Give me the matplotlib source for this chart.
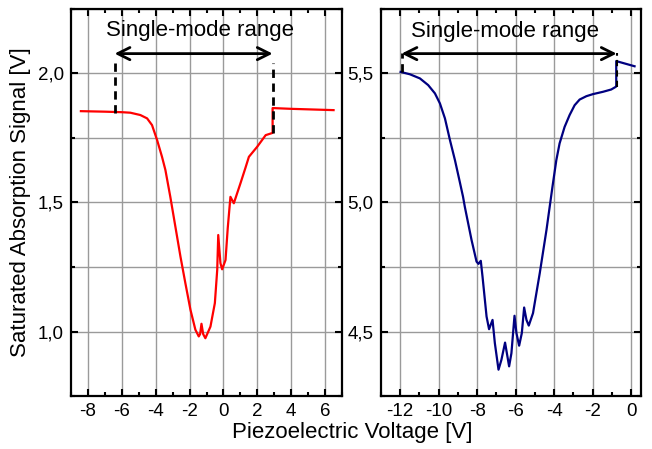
import numpy as np
import matplotlib
matplotlib.use("Agg")
import matplotlib.pyplot as plt
from matplotlib.ticker import MultipleLocator, FuncFormatter

plt.rcParams['font.family'] = ['Liberation Sans', 'DejaVu Sans']

# left panel: red trace
left_x = [-8.42, -7.0, -6.0, -5.5, -4.91, -4.51, -4.22, -3.92, -3.63, -3.43, -3.14, -2.84,
          -2.54, -2.25, -1.95, -1.66, -1.46, -1.38, -1.30, -1.2, -1.07, -0.77, -0.51,
          -0.37, -0.31, -0.18, -0.08, 0.12, 0.25, 0.41, 0.61, 1.0, 1.3, 1.5, 1.99,
          2.49, 2.82, 2.9, 2.9, 4.0, 5.5, 6.5]
left_y = [1.854, 1.852, 1.850, 1.848, 1.839, 1.826, 1.800, 1.742, 1.677, 1.626, 1.522, 1.406,
          1.290, 1.187, 1.084, 1.007, 0.981, 0.99, 1.030, 0.99, 0.974, 1.019, 1.110,
          1.239, 1.374, 1.265, 1.241, 1.277, 1.40, 1.522, 1.497, 1.574, 1.635, 1.677, 1.716,
          1.761, 1.768, 1.770, 1.866, 1.863, 1.860, 1.858]

# right panel: blue trace
right_x = [-11.97, -11.49, -10.97, -10.54, -10.19, -9.93, -9.67, -9.41, -9.15, -8.90,
           -8.73, -8.64, -8.29, -8.03, -7.93, -7.81, -7.72, -7.51, -7.38, -7.2, -7.08,
           -6.89, -6.74, -6.55, -6.34, -6.22, -6.06, -5.96, -5.82, -5.68, -5.56, -5.44,
           -5.32, -5.1, -4.75, -4.4, -4.09, -3.89, -3.72, -3.46, -3.2, -2.94, -2.68,
           -2.33, -1.99, -1.47, -1.04, -0.81, -0.78, -0.78, 0.17]
right_y = [5.506, 5.497, 5.481, 5.455, 5.423, 5.384, 5.326, 5.242, 5.164, 5.080,
           5.022, 4.984, 4.855, 4.771, 4.762, 4.774, 4.713, 4.558, 4.509, 4.545, 4.455,
           4.352, 4.39, 4.457, 4.365, 4.416, 4.561, 4.494, 4.445, 4.494, 4.593, 4.545,
           4.523, 4.571, 4.726, 4.894, 5.061, 5.164, 5.229, 5.293, 5.339, 5.377, 5.399,
           5.412, 5.42, 5.429, 5.438, 5.448, 5.450, 5.548, 5.528]

# single-mode range markers (start, end)
left_range = [-6.43, 2.9]
right_range = [-11.92, -0.76]

label_text = "Single-mode range"


def comma_fmt(v, pos):
    return ("%.1f" % v).replace(".", ",")


def style_axis(ax):
    ax.grid(True, which='major', axis='x', color='#9a9a9a', lw=1.0)
    ax.grid(True, which='both', axis='y', color='#9a9a9a', lw=1.0)
    ax.set_axisbelow(True)
    ax.tick_params(which='both', direction='in', top=True, right=True, labelsize=13.5,
                   width=1.5, pad=5)
    ax.tick_params(which='major', length=5)
    ax.tick_params(which='minor', length=3)
    ax.yaxis.set_major_locator(MultipleLocator(0.5))
    ax.yaxis.set_minor_locator(MultipleLocator(0.25))
    ax.xaxis.set_major_locator(MultipleLocator(2))
    ax.xaxis.set_minor_locator(MultipleLocator(1))
    ax.yaxis.set_major_formatter(FuncFormatter(comma_fmt))
    ax.xaxis.set_major_formatter(FuncFormatter(lambda v, p: "%d" % v))
    for s in ax.spines.values():
        s.set_linewidth(1.6)


fig = plt.figure(figsize=(6.52, 4.49), dpi=100)
ax1 = fig.add_axes([0.109, 0.118, 0.4156, 0.862])
ax2 = fig.add_axes([0.584, 0.118, 0.399, 0.862])

# left
ax1.plot(left_x, left_y, color='red', lw=1.6)
ax1.set_xlim(-9, 7)
ax1.set_ylim(0.75, 2.25)
style_axis(ax1)
ax1.plot([left_range[0]] * 2, [1.845, 2.04], color='black', lw=2, ls=(0, (3, 2)))
ax1.plot([left_range[1]] * 2, [1.77, 2.04], color='black', lw=2, ls=(0, (3, 2)))
ax1.annotate('', xy=(left_range[0], 2.077), xytext=(left_range[1], 2.077),
             arrowprops=dict(arrowstyle='<->', lw=2, color='black', mutation_scale=22,
                             shrinkA=0, shrinkB=0))
ax1.text(-1.36, 2.168, label_text, ha='center', va='center', fontsize=16)
ax1.set_ylabel("Saturated Absorption Signal [V]", fontsize=16, labelpad=5)

# right
ax2.plot(right_x, right_y, color='#000080', lw=1.6)
ax2.set_xlim(-13, 0.5)
ax2.set_ylim(4.25, 5.75)
style_axis(ax2)
ax2.plot([right_range[0]] * 2, [5.506, 5.578], color='black', lw=2, ls=(0, (3, 2)))
ax2.plot([right_range[1]] * 2, [5.447, 5.578], color='black', lw=1.5, ls=(0, (3, 2)))
ax2.annotate('', xy=(right_range[0], 5.577), xytext=(right_range[1], 5.577),
             arrowprops=dict(arrowstyle='<->', lw=2, color='black', mutation_scale=22,
                             shrinkA=0, shrinkB=0))
ax2.text(-6.54, 5.661, label_text, ha='center', va='center', fontsize=16)

fig.text(0.54, 0.036, "Piezoelectric Voltage [V]", ha='center', va='center', fontsize=16)

fig.savefig("out.png", dpi=100)
